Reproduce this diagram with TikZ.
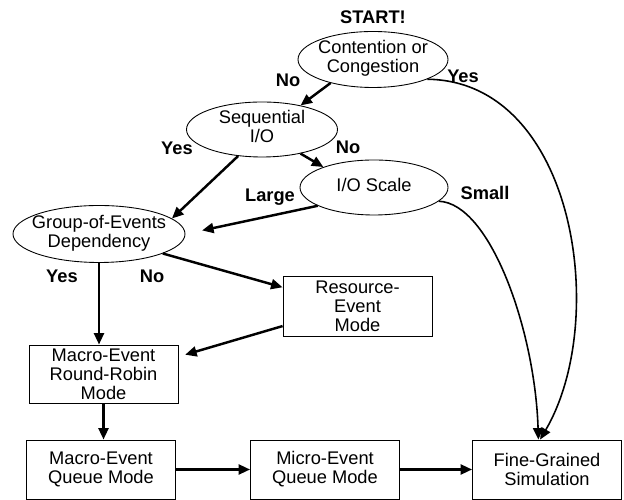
\documentclass[tikz,border=0pt]{standalone}
\usepackage{fontspec}
\setmainfont{Liberation Sans}
\usetikzlibrary{arrows.meta, shapes.geometric}
\newcommand{\ctext}[1]{\makebox[0pt]{\begin{tabular}{@{}c@{}}#1\end{tabular}}}

\begin{document}
\begin{tikzpicture}[
  every node/.style={font=\fontsize{10.4}{10.9}\selectfont},
  decision/.style={ellipse, draw, line width=0.5pt, minimum height=1.12cm, inner sep=0pt},
  modebox/.style={rectangle, draw, line width=0.5pt, minimum width=2.98cm, minimum height=1.18cm, align=center, inner sep=0pt},
  lbl/.style={font=\fontsize{10.4}{10.9}\selectfont\bfseries},
  flow/.style={-{Triangle[length=2.3mm, width=2mm]}, line width=1.4pt},
  sideflow/.style={-{Triangle[length=2.3mm, width=2mm]}, line width=0.9pt},
]
\useasboundingbox (0,0) rectangle (12.48,10);

% Decisions
\node[lbl] (start) at (7.46,9.66) {START!};
\node[decision, minimum width=3.0cm] (cont) at (7.46,8.81) {\ctext{Contention or\\Congestion}};
\node[decision, minimum width=3.02cm, minimum height=1.1cm] (seq) at (5.24,7.41) {\ctext{Sequential\\I/O}};
\node[decision, minimum width=2.96cm, minimum height=1.1cm] (ioscale) at (7.48,6.25) {\ctext{I/O Scale}};
\node[decision, minimum width=3.44cm, minimum height=1.14cm] (gdep) at (1.98,5.32) {\ctext{Group-of-Events\\Dependency}};

% Modes
\node[modebox, minimum height=1.2cm] (res) at (7.15,3.88) {Resource-\\Event\\Mode};
\node[modebox, minimum height=1.16cm] (rr) at (2.07,2.52) {Macro-Event\\Round-Robin\\Mode};
\node[modebox] (mq) at (2.02,0.61) {Macro-Event\\Queue Mode};
\node[modebox] (micro) at (6.5,0.61) {Micro-Event\\Queue Mode};
\node[modebox] (fine) at (10.94,0.61) {Fine-Grained\\Simulation};

% Labels
\node[lbl] (contno) at (5.76,8.4) {No};
\node[lbl] (contyes) at (9.26,8.48) {Yes};
\node[lbl] (seqyes) at (3.54,7.04) {Yes};
\node[lbl] (seqno) at (6.96,7.06) {No};
\node[lbl] (large) at (5.4,6.06) {Large};
\node[lbl] (small) at (9.7,6.14) {Small};
\node[lbl] (gdyes) at (1.24,4.48) {Yes};
\node[lbl] (gdno) at (3.04,4.48) {No};

% Arrows
\draw[flow] (cont.209) -- (seq.32);
\draw[flow] (seq.328) -- (ioscale.158);
\draw[flow] (seq.228) -- (gdep.12);
\draw[flow, shorten >=0.34cm] (ioscale.198) -- (gdep.east);
\draw[flow] (gdep.343) -- (res.166);
\draw[flow] (gdep.south) -- (gdep.south |- rr.north);
\draw[flow, shorten >=0.14cm] (res.195) -- (rr.13);
\draw[flow] (rr.south) -- (rr.south |- mq.north);
\draw[flow] (mq.east) -- (micro.west);
\draw[flow] (micro.east) -- (fine.west);
\draw[sideflow] (cont.-20) .. controls (11.5,8.38) and (12.2,3.6) .. (fine.103);
\draw[sideflow] (ioscale.-12) .. controls (9.8,5.94) and (10.7,3.4) .. (fine.106);
\end{tikzpicture}
\end{document}
